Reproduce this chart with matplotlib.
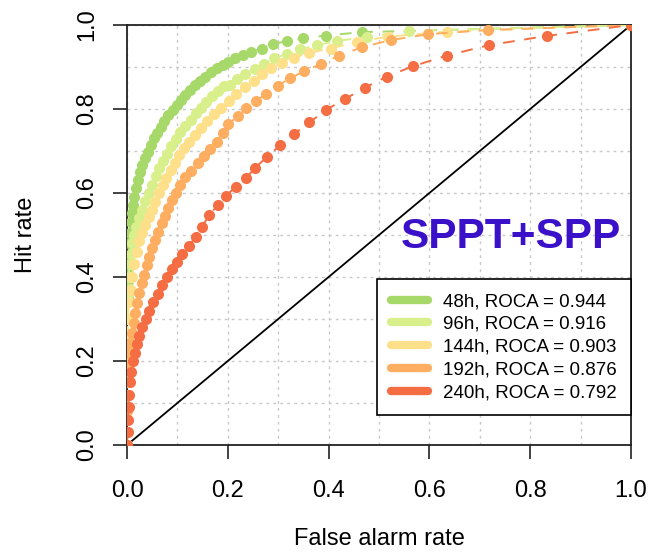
import matplotlib
matplotlib.use("Agg")
import matplotlib.pyplot as plt
from matplotlib.lines import Line2D
import numpy as np

plt.rcParams['font.family'] = ['Liberation Sans', 'DejaVu Sans']

# ROC points (false alarm rate, hit rate)
fa_48 = [0.0, 0.0, 0.0005, 0.001, 0.0015, 0.002, 0.003, 0.004, 0.005, 0.007, 0.009, 0.011, 0.014, 0.017,
         0.021, 0.026, 0.030, 0.036, 0.041, 0.047, 0.054, 0.060, 0.067, 0.074, 0.082, 0.091, 0.099,
         0.107, 0.116, 0.125, 0.135, 0.145, 0.155, 0.166, 0.178, 0.190, 0.201, 0.214, 0.230, 0.247,
         0.267, 0.290, 0.317, 0.350, 0.394, 0.466, 1.0]
hr_48 = [0.0, 0.20, 0.30, 0.35, 0.39, 0.42, 0.45, 0.48, 0.505, 0.53, 0.552, 0.571, 0.591, 0.611,
         0.631, 0.651, 0.667, 0.683, 0.698, 0.714, 0.730, 0.744, 0.758, 0.771, 0.786, 0.798, 0.810,
         0.821, 0.833, 0.845, 0.857, 0.867, 0.877, 0.887, 0.897, 0.905, 0.913, 0.921, 0.929, 0.936,
         0.944, 0.954, 0.962, 0.968, 0.975, 0.983, 1.0]

fa_96 = [0.0, 0.0005, 0.001, 0.002, 0.003, 0.005, 0.007, 0.010, 0.014, 0.018, 0.023, 0.029, 0.036,
         0.043, 0.050, 0.057, 0.064, 0.072, 0.080, 0.088, 0.097, 0.106, 0.116, 0.126, 0.137, 0.147,
         0.157, 0.168, 0.180, 0.192, 0.204, 0.219, 0.234, 0.253, 0.272, 0.292, 0.317, 0.343, 0.376,
         0.417, 0.476, 0.560, 1.0]
hr_96 = [0.0, 0.20, 0.30, 0.36, 0.40, 0.43, 0.455, 0.48, 0.50, 0.52, 0.54, 0.56, 0.58,
         0.60, 0.62, 0.64, 0.66, 0.677, 0.694, 0.711, 0.728, 0.745, 0.760, 0.775, 0.790, 0.803,
         0.816, 0.830, 0.843, 0.855, 0.857, 0.871, 0.883, 0.895, 0.907, 0.921, 0.931, 0.942, 0.952,
         0.962, 0.972, 0.986, 1.0]

fa_144 = [0.0, 0.0, 0.001, 0.002, 0.004, 0.007, 0.010, 0.014, 0.019, 0.024, 0.030, 0.036, 0.043,
          0.050, 0.056, 0.063, 0.071, 0.078, 0.087, 0.095, 0.104, 0.114, 0.124, 0.135, 0.147, 0.159,
          0.173, 0.187, 0.202, 0.217, 0.234, 0.251, 0.267, 0.286, 0.307, 0.332, 0.362, 0.404, 0.457,
          0.517, 0.634, 1.0]
hr_144 = [0.0, 0.15, 0.25, 0.30, 0.34, 0.37, 0.40, 0.43, 0.46, 0.485, 0.505, 0.525, 0.543,
          0.560, 0.579, 0.599, 0.619, 0.636, 0.655, 0.672, 0.690, 0.706, 0.722, 0.738, 0.754, 0.771,
          0.788, 0.803, 0.819, 0.835, 0.853, 0.867, 0.883, 0.897, 0.910, 0.922, 0.934, 0.944, 0.960,
          0.972, 0.984, 1.0]

fa_192 = [0.0, 0.0005, 0.001, 0.002, 0.003, 0.004, 0.006, 0.009, 0.013, 0.016, 0.020, 0.024, 0.029,
          0.034, 0.039, 0.044, 0.050, 0.056, 0.062, 0.069, 0.075, 0.082, 0.089, 0.097, 0.106, 0.116,
          0.127, 0.140, 0.153, 0.165, 0.178, 0.190, 0.201, 0.220, 0.237, 0.256, 0.276, 0.299, 0.323,
          0.352, 0.384, 0.421, 0.466, 0.523, 0.597, 0.716, 1.0]
hr_192 = [0.0, 0.08, 0.12, 0.16, 0.19, 0.218, 0.242, 0.266, 0.290, 0.314, 0.337, 0.361, 0.385,
          0.405, 0.429, 0.448, 0.468, 0.488, 0.508, 0.528, 0.545, 0.564, 0.583, 0.601, 0.619, 0.637,
          0.653, 0.671, 0.687, 0.704, 0.722, 0.743, 0.764, 0.783, 0.802, 0.819, 0.836, 0.855, 0.873,
          0.890, 0.907, 0.927, 0.947, 0.964, 0.978, 0.988, 1.0]

fa_240 = [0.0, 0.001, 0.002, 0.003, 0.004, 0.006, 0.008, 0.011, 0.015, 0.019, 0.024, 0.030, 0.037,
          0.044, 0.052, 0.061, 0.070, 0.079, 0.089, 0.099, 0.110, 0.123, 0.137, 0.149, 0.163, 0.180,
          0.197, 0.216, 0.236, 0.254, 0.277, 0.304, 0.331, 0.362, 0.395, 0.433, 0.472, 0.515, 0.568,
          0.634, 0.718, 0.833, 1.0]
hr_240 = [0.0, 0.03, 0.06, 0.09, 0.12, 0.15, 0.175, 0.20, 0.22, 0.24, 0.26, 0.28, 0.30,
          0.32, 0.34, 0.36, 0.38, 0.40, 0.418, 0.435, 0.454, 0.475, 0.496, 0.520, 0.547, 0.571,
          0.594, 0.615, 0.635, 0.660, 0.685, 0.714, 0.740, 0.768, 0.798, 0.824, 0.851, 0.877, 0.902,
          0.927, 0.952, 0.974, 1.0]

leads = ["48h", "96h", "144h", "192h", "240h"]
roca = [0.944, 0.916, 0.903, 0.876, 0.792]
colors = ["#a6d96a", "#d9ef8b", "#fee08b", "#fdae61", "#f46d43"]
curves = [(fa_48, hr_48), (fa_96, hr_96), (fa_144, hr_144), (fa_192, hr_192), (fa_240, hr_240)]

fig = plt.figure(figsize=(6.57, 5.58), dpi=100)
ax = fig.add_axes([127/657, 113/558, 504/657, 420/558])

ax.set_xlim(0, 1)
ax.set_ylim(0, 1)
ax.set_xticks(np.arange(0, 1.01, 0.2))
ax.set_yticks(np.arange(0, 1.01, 0.2))
ax.set_xticks(np.arange(0, 1.01, 0.1), minor=True)
ax.set_yticks(np.arange(0, 1.01, 0.1), minor=True)
ax.grid(True, which='both', color='#c8c8c8', linestyle=(0, (2, 3)), linewidth=1)
ax.set_axisbelow(True)
ax.tick_params(which='minor', length=0)
ax.tick_params(which='major', length=10, width=1.2, direction='out', labelsize=17,
               color='#222222')
ax.tick_params(axis='x', pad=15)
ax.tick_params(axis='y', labelrotation=90, pad=11)
for lab in ax.get_yticklabels():
    lab.set_va('center')
ax.xaxis.set_major_formatter(matplotlib.ticker.FormatStrFormatter('%.1f'))
ax.yaxis.set_major_formatter(matplotlib.ticker.FormatStrFormatter('%.1f'))
for s in ax.spines.values():
    s.set_linewidth(1.3)
    s.set_color('#222222')

ax.plot([0, 1], [0, 1], color='black', lw=1.3, zorder=2)

for (fa, hr), c in zip(curves, colors):
    ax.plot(fa, hr, color=c, lw=1.4, linestyle=(0, (6, 5)), zorder=3)
    ax.plot(fa, hr, 'o', color=c, markersize=8, markeredgewidth=0, zorder=3)

handles = [Line2D([0], [0], color=c, lw=6, solid_capstyle='round') for c in colors]
labels = ["%s, ROCA = %.3f" % (l, r) for l, r in zip(leads, roca)]
leg = ax.legend(handles, labels, loc='lower right', bbox_to_anchor=(1.0, 0.071),
                borderaxespad=0, fontsize=13.5, frameon=True, fancybox=False,
                handlelength=2.0, handletextpad=0.8, labelspacing=0.3, borderpad=0.75)
leg.get_frame().set_edgecolor('black')
leg.get_frame().set_linewidth(1.2)
leg.get_frame().set_alpha(1)

ax.text(0.762, 0.469, "SPPT+SPP", color='#3a10c8', fontsize=30.5, fontweight='bold',
        ha='center', va='baseline', zorder=5)

ax.set_xlabel("False alarm rate", fontsize=17, labelpad=19)
ax.set_ylabel("Hit rate", fontsize=17, labelpad=28)

fig.savefig("out.png", dpi=100)
